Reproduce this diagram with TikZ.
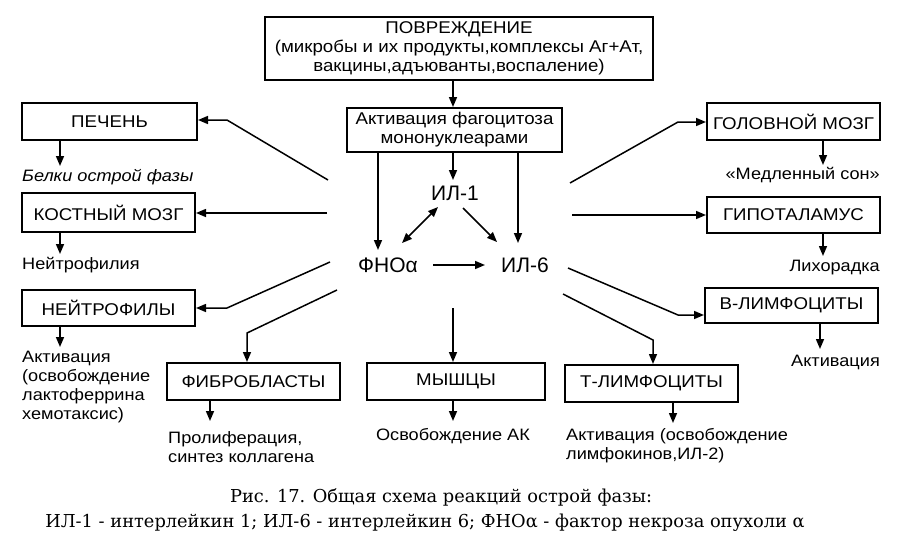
\documentclass[tikz,border=0pt]{standalone}
\usepackage{fontspec}
\setmainfont[FakeStretch=1.1]{Liberation Sans}
\newfontfamily\cytfont{Liberation Sans}
\newfontfamily\capfont{DejaVu Serif}
\usetikzlibrary{arrows.meta}
\begin{document}
\begin{tikzpicture}[x=1pt,y=-1pt,
  box/.style={draw,line width=2pt,inner sep=0pt,align=center,font=\fontsize{17}{19}\selectfont},
  lbl/.style={inner sep=0pt,font=\fontsize{16.5}{19}\selectfont},
  cyt/.style={inner sep=0pt,font=\cytfont\fontsize{21}{24}\selectfont},
  arr/.style={line width=1.5pt,-{Triangle[length=10pt,width=8pt]}},
  darr/.style={line width=1.5pt,{Triangle[length=10pt,width=8pt]}-{Triangle[length=10pt,width=8pt]}}]
\useasboundingbox (0,0) rectangle (913,541);
% boxes
\node[box,minimum width=388pt,minimum height=63pt] (top) at (459,48.5)
  {ПОВРЕЖДЕНИЕ\\(микробы и их продукты,комплексы Аг+Ат,\\вакцины,адъюванты,воспаление)};
\node[box,minimum width=215pt,minimum height=44pt] (act) at (454.5,130)
  {Активация фагоцитоза\\мононуклеарами};
\node[box,minimum width=175pt,minimum height=37pt] (pech) at (109.5,121.5) {ПЕЧЕНЬ};
\node[box,minimum width=173pt,minimum height=39pt] (kost) at (108.5,212.5) {КОСТНЫЙ МОЗГ};
\node[box,minimum width=173pt,minimum height=36pt] (neut) at (108.5,308) {НЕЙТРОФИЛЫ};
\node[box,minimum width=173pt,minimum height=37pt] (fib) at (253.5,381.5) {ФИБРОБЛАСТЫ};
\node[box,minimum width=178pt,minimum height=37pt] (mus) at (456,381.5) {МЫШЦЫ};
\node[box,minimum width=173pt,minimum height=37pt] (tl) at (651.5,383.5) {Т-ЛИМФОЦИТЫ};
\node[box,minimum width=173pt,minimum height=37pt] (brain) at (793.5,121.5) {ГОЛОВНОЙ МОЗГ};
\node[box,minimum width=173pt,minimum height=36pt] (hyp) at (793.5,215) {ГИПОТАЛАМУС};
\node[box,minimum width=173pt,minimum height=35pt] (bl) at (791.5,305.5) {В-ЛИМФОЦИТЫ};
% cytokines
\node[cyt] (fno) at (388,265) {ФНОα};
\node[cyt] (il1) at (455,193) {ИЛ-1};
\node[cyt] (il6) at (525,265) {ИЛ-6};
% results
\node[lbl,anchor=west,font=\fontsize{16.5}{19}\selectfont\itshape] (rpech) at (22,177) {Белки острой фазы};
\node[lbl,anchor=west] (rkost) at (22,265) {Нейтрофилия};
\node[lbl,anchor=north west,align=left] (rneut) at (22,351) {Активация\\(освобождение\\лактоферрина\\хемотаксис)};
\node[lbl,anchor=north west,align=left] (rfib) at (168,431) {Пролиферация,\\синтез коллагена};
\node[lbl,anchor=north] (rmus) at (453,428) {Освобождение АК};
\node[lbl,anchor=north west,align=left] (rtl) at (566,428) {Активация (освобождение\\лимфокинов,ИЛ-2)};
\node[lbl,anchor=east] (rbrain) at (880,175) {«Медленный сон»};
\node[lbl,anchor=east] (rhyp) at (880,268) {Лихорадка};
\node[lbl,anchor=east] (rbl) at (880,362) {Активация};
% caption
\node[inner sep=0pt,font=\capfont\fontsize{17.8}{20}\selectfont] (cap1) at (441,497) {Рис. 17. Общая схема реакций острой фазы:};
\node[inner sep=0pt,font=\capfont\fontsize{17.8}{20}\selectfont] (cap2) at (425,523) {ИЛ-1 - интерлейкин 1; ИЛ-6 - интерлейкин 6; ФНОα - фактор некроза опухоли α};
% top arrows
\draw[arr] (top.south -| 453,0) -- (act.north -| 453,0);
% activation to cytokines
\coordinate (a1) at (378,152); \coordinate (a1e) at (378,250);
\coordinate (a2) at (453,152); \coordinate (a2e) at (453,180);
\coordinate (a3) at (518,152); \coordinate (a3e) at (518,243);
\draw[arr] (a1) -- (a1e);
\draw[arr] (a2) -- (a2e);
\draw[arr] (a3) -- (a3e);
\coordinate (d1) at (438,207); \coordinate (d2) at (402,243);
\draw[darr] (d1) -- (d2);
\coordinate (i1) at (463,208); \coordinate (i2) at (497,242);
\draw[arr] (i1) -- (i2);
\coordinate (f1) at (433,265); \coordinate (f2) at (485,265);
\draw[arr] (f1) -- (f2);
% left connectors
\coordinate (lp0) at (328,180); \coordinate (lp1) at (227,120);
\draw[arr] (lp0) -- (lp1) -- (lp1 -| pech.east);
\coordinate (lk0) at (327,213);
\draw[arr] (lk0) -- (lk0 -| kost.east);
\coordinate (ln0) at (330,262); \coordinate (ln1) at (227,308);
\draw[arr] (ln0) -- (ln1) -- (ln1 -| neut.east);
\coordinate (lf0) at (337,290); \coordinate (lf1) at (247,333);
\draw[arr] (lf0) -- (lf1) -- (lf1 |- fib.north);
\coordinate (m0) at (453,308);
\draw[arr] (m0) -- (m0 |- mus.north);
% right connectors
\coordinate (rt0) at (563,294); \coordinate (rt1) at (653,340);
\draw[arr] (rt0) -- (rt1) -- (rt1 |- tl.north);
\coordinate (rb0) at (570,183); \coordinate (rb1) at (678,122);
\draw[arr] (rb0) -- (rb1) -- (rb1 -| brain.west);
\coordinate (rh0) at (572,215);
\draw[arr] (rh0) -- (rh0 -| hyp.west);
\coordinate (rl0) at (568,268); \coordinate (rl1) at (678,315);
\draw[arr] (rl0) -- (rl1) -- (rl1 -| bl.west);
% outputs
\draw[arr] (pech.south -| 60,0) -- (60,166);
\draw[arr] (kost.south -| 60,0) -- (60,254);
\draw[arr] (neut.south -| 60,0) -- (60,347);
\draw[arr] (fib.south -| 210,0) -- (210,421);
\draw[arr] (mus.south -| 453,0) -- (453,421);
\draw[arr] (tl.south -| 673,0) -- (673,423);
\draw[arr] (brain.south -| 823,0) -- (823,165);
\draw[arr] (hyp.south -| 823,0) -- (823,256);
\draw[arr] (bl.south -| 820,0) -- (820,349);
\end{tikzpicture}
\end{document}
